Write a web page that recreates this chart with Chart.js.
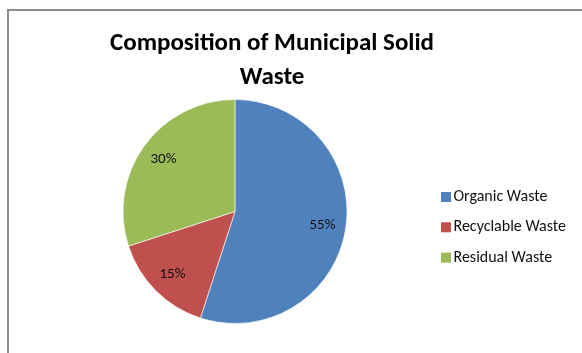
<!DOCTYPE html>
<html>
<head>
<meta charset="utf-8">
<script src="https://cdn.jsdelivr.net/npm/chart.js@4/dist/chart.umd.min.js"></script>
<style>
  body { margin: 0; background: #fff; }
  #wrap { position: relative; width: 582px; height: 353px; overflow: hidden; }
  #frame {
    position: absolute; left: 7px; top: 9px; width: 640px; height: 400px;
    border-left: 2px solid #8c8c8c; border-top: 2px solid #8c8c8c;
  }
  #chart { position: absolute; left: 0; top: 0; }
</style>
</head>
<body>
<div id="wrap">
  <div id="frame"></div>
  <canvas id="chart" width="582" height="353"></canvas>
</div>
<script>
// chart data
const titleLines = ['Composition of Municipal Solid', 'Waste'];
const categories = ['Organic Waste', 'Recyclable Waste', 'Residual Waste'];
const shares = [55, 15, 30];
const sliceColors = ['#4F81BD', '#C0504D', '#9BBB59'];

const fontFamily = 'Carlito, Calibri, Lato, sans-serif';

// percent labels inside each slice
const sliceLabels = {
  id: 'sliceLabels',
  afterDatasetsDraw(chart) {
    const ctx = chart.ctx;
    const meta = chart.getDatasetMeta(0);
    ctx.save();
    ctx.font = '15px ' + fontFamily;
    ctx.fillStyle = '#111';
    ctx.textAlign = 'center';
    ctx.textBaseline = 'middle';
    meta.data.forEach((arc, i) => {
      const p = arc.getProps(['x', 'y', 'startAngle', 'endAngle', 'outerRadius'], true);
      const mid = (p.startAngle + p.endAngle) / 2;
      const r = p.outerRadius * 0.79;
      ctx.fillText(shares[i] + '%', p.x + Math.cos(mid) * r, p.y + Math.sin(mid) * r);
    });
    ctx.restore();
  }
};

// title and legend sit off-centre from the pie (Excel layout), so draw them here
const titleAndLegend = {
  id: 'titleAndLegend',
  afterDraw(chart) {
    const ctx = chart.ctx;
    ctx.save();
    ctx.fillStyle = '#000';
    ctx.textAlign = 'center';
    ctx.textBaseline = 'alphabetic';
    ctx.font = 'bold 25px ' + fontFamily;
    titleLines.forEach((line, i) => ctx.fillText(line, 272, 50 + i * 34));

    const ds = chart.data.datasets[0];
    ctx.font = '16px ' + fontFamily;
    ctx.textAlign = 'left';
    ctx.textBaseline = 'middle';
    chart.data.labels.forEach((label, i) => {
      const y = 197 + i * 30.3;
      ctx.fillStyle = ds.backgroundColor[i];
      ctx.fillRect(441, y - 5, 10, 10);
      ctx.fillStyle = '#111';
      ctx.fillText(label, 453.5, y);
    });
    ctx.restore();
  }
};

const ctx = document.getElementById('chart').getContext('2d');
new Chart(ctx, {
  type: 'pie',
  data: {
    labels: categories,
    datasets: [{
      data: shares,
      backgroundColor: sliceColors,
      borderColor: 'rgba(255,255,255,0.6)',
      borderWidth: 1
    }]
  },
  options: {
    responsive: false,
    animation: false,
    devicePixelRatio: 1,
    layout: { padding: { left: 10, right: 122, top: 99, bottom: 29 } },
    plugins: {
      title: { display: false },
      legend: { display: false },
      tooltip: { enabled: false }
    }
  },
  plugins: [sliceLabels, titleAndLegend]
});
</script>
</body>
</html>
